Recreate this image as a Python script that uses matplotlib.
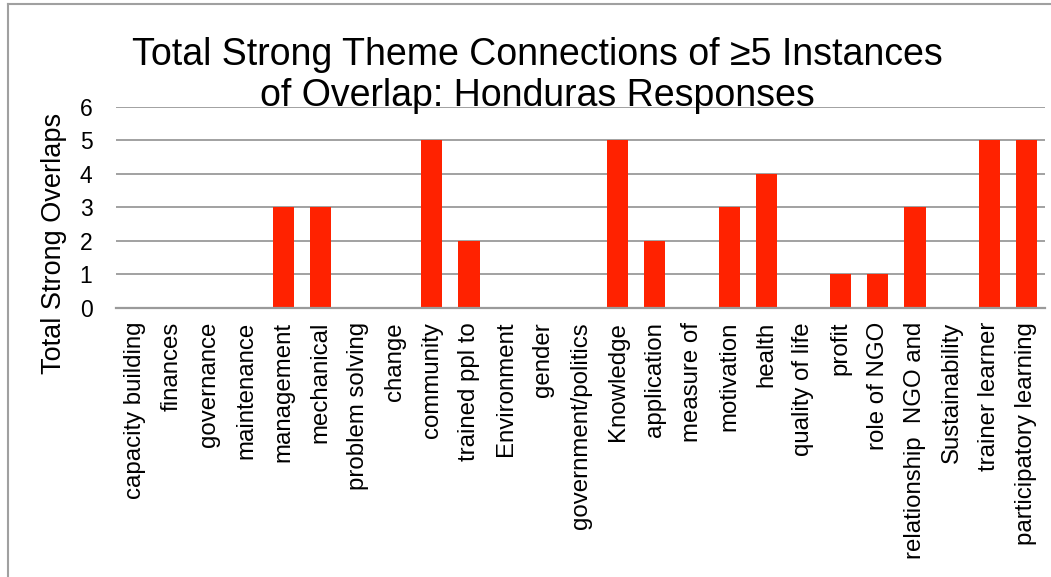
import matplotlib.pyplot as plt
from matplotlib.lines import Line2D

plt.rcParams['font.family'] = ['Liberation Sans', 'DejaVu Sans']

themes = [
    "capacity building", "finances", "governance", "maintenance", "management",
    "mechanical", "problem solving", "change", "community", "trained ppl to",
    "Environment", "gender", "government/politics", "Knowledge", "application",
    "measure of", "motivation", "health", "quality of life", "profit",
    "role of NGO", "relationship  NGO and", "Sustainability", "trainer learner",
    "participatory learning",
]
overlaps = [0, 0, 0, 0, 3, 3, 0, 0, 5, 2, 0, 0, 0, 5, 2, 0, 3, 4, 0, 1, 1, 3, 0, 5, 5]

fig = plt.figure(figsize=(10.51, 5.77), dpi=100)
ax = fig.add_axes([0.1104, 0.4662, 0.8839, 0.3484])

x = range(len(themes))
ax.bar(x, overlaps, width=0.57, color="#ff2200", zorder=2)

ax.set_xlim(-0.5, len(themes) - 0.5)
ax.set_ylim(0, 6)
ax.set_yticks(range(7))
ax.set_xticks(list(x))
ax.set_xticklabels(themes, rotation=90, va="top", ha="center")
ax.tick_params(axis="y", length=0, pad=17, labelsize=16.5)
ax.tick_params(axis="x", length=0, pad=10, labelsize=17.3)

ax.grid(axis="y", color="#9a9a9a", linewidth=1.3, zorder=1)
for side in ["left", "right", "top"]:
    ax.spines[side].set_visible(False)
ax.spines["bottom"].set_color("#9a9a9a")
ax.spines["bottom"].set_linewidth(1.6)

fig.text(54 / 1051, 1 - 243 / 577, "Total Strong Overlaps", rotation=90,
         ha="center", va="center", fontsize=19.5)

fig.text(0.511, 1 - 55 / 577, "Total Strong Theme Connections of \u22655 Instances",
         ha="center", va="center", fontsize=27)
fig.text(0.511, 1 - 96 / 577, "of Overlap: Honduras Responses",
         ha="center", va="center", fontsize=27)

# partial frame along the top and left edges
fig.add_artist(Line2D([8 / 1051, 8 / 1051], [0, 1 - 4 / 577], color="#a0a0a0", linewidth=1.5))
fig.add_artist(Line2D([8 / 1051, 1], [1 - 4 / 577, 1 - 4 / 577], color="#a0a0a0", linewidth=1.5))

plt.savefig("out.png", dpi=100)
